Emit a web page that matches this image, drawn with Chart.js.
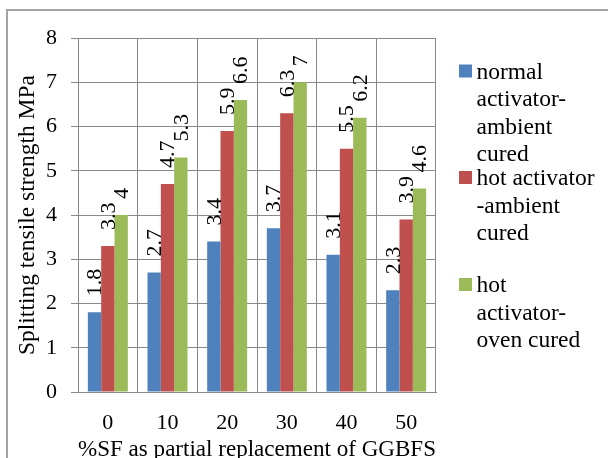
<!DOCTYPE html>
<html><head><meta charset="utf-8">
<script src="https://cdn.jsdelivr.net/npm/chart.js@4"></script>
<style>html,body{margin:0;padding:0;background:#fff}#wrap{width:608px;height:458px;position:relative}</style>
</head><body><div id="wrap"><canvas id="c" width="608" height="458"></canvas></div>
<script>
const categories = ['0', '10', '20', '30', '40', '50'];
const normalAmbient = [1.8, 2.7, 3.4, 3.7, 3.1, 2.3];
const hotAmbient = [3.3, 4.7, 5.9, 6.3, 5.5, 3.9];
const hotOven = [4, 5.3, 6.6, 7, 6.2, 4.6];
const seriesNames = ['normal activator-ambient cured', 'hot activator -ambient cured', 'hot activator-oven cured'];
const legendLines = [['normal', 'activator-', 'ambient', 'cured'], ['hot activator', '-ambient', 'cured'], ['hot', 'activator-', 'oven cured']];
const yMin = 0, yMax = 8, yStep = 1;
const xTitle = '%SF as partial replacement of GGBFS';
const yTitle = 'Splitting tensile strength MPa';
const colors = ['#4F81BD', '#C0504D', '#9BBB59'];

const FONT = "'Liberation Serif', serif";
const GRID = '#898989';
Chart.defaults.font.family = FONT;

const frame = {
  id: 'frame',
  beforeDraw(chart) {
    const ctx = chart.ctx;
    ctx.save();
    ctx.fillStyle = '#fff';
    ctx.fillRect(0, 0, chart.width, chart.height);
    ctx.fillStyle = '#a3a3a3';
    ctx.fillRect(6, 9, chart.width - 6, 2);
    ctx.fillRect(6, 9, 2, chart.height - 9);
    ctx.restore();
  }
};

const barLabels = {
  id: 'barLabels',
  afterDatasetsDraw(chart) {
    const ctx = chart.ctx;
    ctx.save();
    ctx.font = '22px ' + FONT;
    ctx.fillStyle = '#000';
    ctx.textAlign = 'left';
    ctx.textBaseline = 'middle';
    chart.data.datasets.forEach((ds, i) => {
      chart.getDatasetMeta(i).data.forEach((bar, j) => {
        ctx.save();
        ctx.translate(bar.x + 1, bar.y - 16);
        ctx.rotate(-Math.PI / 2);
        ctx.fillText(String(ds.data[j]), 0, 0);
        ctx.restore();
      });
    });
    ctx.restore();
  }
};

const sideLegend = {
  id: 'sideLegend',
  afterDraw(chart) {
    const ctx = chart.ctx;
    const starts = [78.5, 185, 292];
    const lh = 27.5;
    ctx.save();
    ctx.font = '23.5px ' + FONT;
    ctx.textAlign = 'left';
    ctx.textBaseline = 'alphabetic';
    legendLines.forEach((lines, i) => {
      const b = starts[i];
      ctx.fillStyle = chart.data.datasets[i].backgroundColor;
      ctx.fillRect(459, b - 14, 13, 13);
      ctx.fillStyle = '#000';
      lines.forEach((t, k) => ctx.fillText(t, 476.5, b + k * lh));
    });
    ctx.restore();
  }
};

const datasets = [normalAmbient, hotAmbient, hotOven].map((d, i) => ({
  label: seriesNames[i],
  data: d,
  backgroundColor: colors[i],
  borderWidth: 0,
  categoryPercentage: 0.67,
  barPercentage: 1
}));

new Chart(document.getElementById('c'), {
  type: 'bar',
  data: { labels: categories, datasets },
  options: {
    responsive: false,
    animation: false,
    devicePixelRatio: 1,
    layout: { padding: { left: 0, top: 38, right: 172, bottom: 0 } },
    plugins: { legend: { display: false }, tooltip: { enabled: false } },
    scales: {
      x: {
        grid: { offset: true, color: GRID, lineWidth: 1, drawTicks: false },
        border: { color: GRID, width: 1 },
        ticks: { color: '#000', font: { family: FONT, size: 22 }, padding: 18 },
        title: { display: true, text: xTitle, color: '#000', font: { family: FONT, size: 23.5, lineHeight: 1.2 }, padding: { top: 0, bottom: -6 } },
        afterFit(s) { s.height = 66; }
      },
      y: {
        min: yMin, max: yMax,
        ticks: { stepSize: yStep, color: '#000', font: { family: FONT, size: 22 }, padding: 14 },
        grid: { color: GRID, lineWidth: 1, tickLength: 7 },
        border: { color: GRID, width: 1 },
        title: { display: true, text: yTitle, color: '#000', font: { family: FONT, size: 23.5, lineHeight: 1.2 }, padding: { top: 14, bottom: 0 } },
        afterFit(s) { s.width = 78; }
      }
    }
  },
  plugins: [frame, barLabels, sideLegend]
});
</script>
</body></html>
